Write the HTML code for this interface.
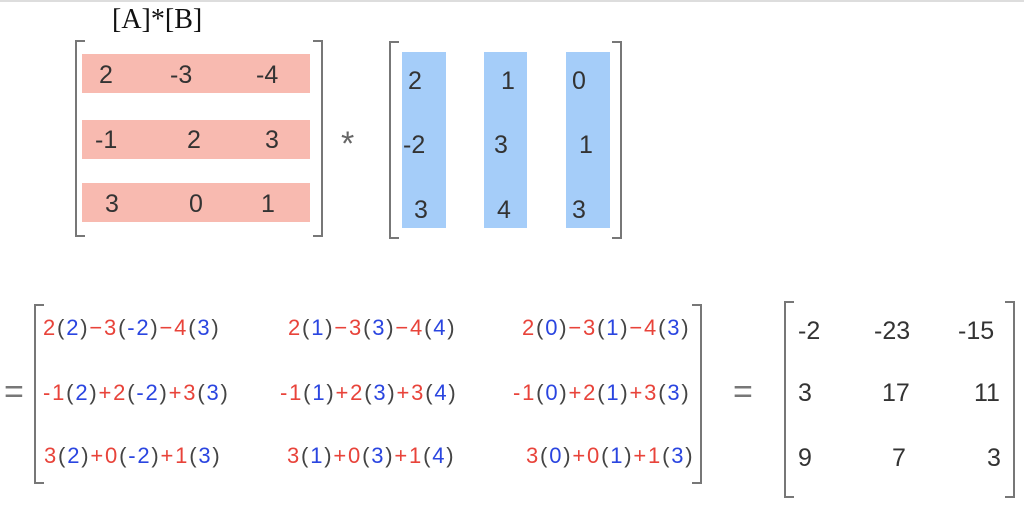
<!DOCTYPE html>
<html><head><meta charset="utf-8"><style>
body{margin:0;width:1024px;height:507px;background:#fff;position:relative;overflow:hidden;font-family:"Liberation Sans","DejaVu Sans",sans-serif;}
.a{position:absolute;}
.t{position:absolute;font-size:25px;line-height:28px;color:#333;white-space:nowrap;transform:translateY(-50%);}
.e{letter-spacing:1.8px;font-size:22px;}
.br{position:absolute;border:2.5px solid #777;}
.l{border-right:none;width:8px;}
.rr{border-left:none;width:8px;}
.r{color:#e8433a}.b{color:#2a45e0}.p{color:#444}
.pk{position:absolute;background:#f8bab0;}
.bl{position:absolute;background:#a5cdf9;}
</style></head><body>
<div class="a" style="left:0;top:0;width:1024px;height:2px;background:#ddd"></div>
<div class="a" style="left:112px;top:4px;font-family:'Liberation Serif',serif;font-size:28px;color:#111">[A]*[B]</div>

<!-- Matrix A -->
<div class="br l" style="left:75px;top:40px;height:193px"></div>
<div class="br rr" style="left:313px;top:40px;height:193px"></div>
<div class="pk" style="left:82px;top:54px;width:228px;height:39px"></div>
<div class="pk" style="left:82px;top:120px;width:228px;height:39px"></div>
<div class="pk" style="left:82px;top:183px;width:228px;height:39px"></div>
<div class="t" style="left:99px;top:75px">2</div>
<div class="t" style="left:170px;top:75px">-3</div>
<div class="t" style="left:256px;top:75px">-4</div>
<div class="t" style="left:95px;top:140px">-1</div>
<div class="t" style="left:187px;top:140px">2</div>
<div class="t" style="left:265px;top:140px">3</div>
<div class="t" style="left:105px;top:204px">3</div>
<div class="t" style="left:189px;top:204px">0</div>
<div class="t" style="left:261px;top:204px">1</div>
<div class="t" style="left:341px;top:144px;font-size:34px;color:#666">*</div>

<!-- Matrix B -->
<div class="br l" style="left:389px;top:41px;height:194px"></div>
<div class="br rr" style="left:612px;top:41px;height:194px"></div>
<div class="bl" style="left:402px;top:52px;width:44px;height:176px"></div>
<div class="bl" style="left:484px;top:52px;width:43px;height:176px"></div>
<div class="bl" style="left:566px;top:52px;width:44px;height:176px"></div>
<div class="t" style="left:408px;top:81px">2</div>
<div class="t" style="left:403px;top:145px">-2</div>
<div class="t" style="left:414px;top:210px">3</div>
<div class="t" style="left:501px;top:81px">1</div>
<div class="t" style="left:494px;top:145px">3</div>
<div class="t" style="left:497px;top:210px">4</div>
<div class="t" style="left:572px;top:81px">0</div>
<div class="t" style="left:579px;top:145px">1</div>
<div class="t" style="left:572px;top:210px">3</div>

<!-- Bottom expansion -->
<div class="t" style="left:4px;top:392px;font-size:34px;color:#777">=</div>
<div class="br l" style="left:34px;top:304px;height:176px"></div>
<div class="br rr" style="left:692px;top:304px;height:176px"></div>

<div class="t e" style="left:43px;top:328px"><span class="r">2</span><span class="p">(</span><span class="b">2</span><span class="p">)</span><span class="r">−3</span><span class="p">(</span><span class="b">-2</span><span class="p">)</span><span class="r">−4</span><span class="p">(</span><span class="b">3</span><span class="p">)</span></div>
<div class="t e" style="left:43px;top:393px"><span class="r">-1</span><span class="p">(</span><span class="b">2</span><span class="p">)</span><span class="r">+2</span><span class="p">(</span><span class="b">-2</span><span class="p">)</span><span class="r">+3</span><span class="p">(</span><span class="b">3</span><span class="p">)</span></div>
<div class="t e" style="left:44px;top:456px"><span class="r">3</span><span class="p">(</span><span class="b">2</span><span class="p">)</span><span class="r">+0</span><span class="p">(</span><span class="b">-2</span><span class="p">)</span><span class="r">+1</span><span class="p">(</span><span class="b">3</span><span class="p">)</span></div>

<div class="t e" style="left:288px;top:328px"><span class="r">2</span><span class="p">(</span><span class="b">1</span><span class="p">)</span><span class="r">−3</span><span class="p">(</span><span class="b">3</span><span class="p">)</span><span class="r">−4</span><span class="p">(</span><span class="b">4</span><span class="p">)</span></div>
<div class="t e" style="left:280px;top:393px"><span class="r">-1</span><span class="p">(</span><span class="b">1</span><span class="p">)</span><span class="r">+2</span><span class="p">(</span><span class="b">3</span><span class="p">)</span><span class="r">+3</span><span class="p">(</span><span class="b">4</span><span class="p">)</span></div>
<div class="t e" style="left:287px;top:456px"><span class="r">3</span><span class="p">(</span><span class="b">1</span><span class="p">)</span><span class="r">+0</span><span class="p">(</span><span class="b">3</span><span class="p">)</span><span class="r">+1</span><span class="p">(</span><span class="b">4</span><span class="p">)</span></div>

<div class="t e" style="left:522px;top:328px"><span class="r">2</span><span class="p">(</span><span class="b">0</span><span class="p">)</span><span class="r">−3</span><span class="p">(</span><span class="b">1</span><span class="p">)</span><span class="r">−4</span><span class="p">(</span><span class="b">3</span><span class="p">)</span></div>
<div class="t e" style="left:513px;top:393px"><span class="r">-1</span><span class="p">(</span><span class="b">0</span><span class="p">)</span><span class="r">+2</span><span class="p">(</span><span class="b">1</span><span class="p">)</span><span class="r">+3</span><span class="p">(</span><span class="b">3</span><span class="p">)</span></div>
<div class="t e" style="left:526px;top:456px"><span class="r">3</span><span class="p">(</span><span class="b">0</span><span class="p">)</span><span class="r">+0</span><span class="p">(</span><span class="b">1</span><span class="p">)</span><span class="r">+1</span><span class="p">(</span><span class="b">3</span><span class="p">)</span></div>

<!-- Result -->
<div class="t" style="left:733px;top:392px;font-size:34px;color:#777">=</div>
<div class="br l" style="left:784px;top:301px;height:193px"></div>
<div class="br rr" style="left:1005px;top:301px;height:193px"></div>
<div class="t" style="left:798px;top:331px">-2</div>
<div class="t" style="left:874px;top:331px">-23</div>
<div class="t" style="left:958px;top:331px">-15</div>
<div class="t" style="left:798px;top:393px">3</div>
<div class="t" style="left:882px;top:393px">17</div>
<div class="t" style="left:974px;top:393px">11</div>
<div class="t" style="left:798px;top:458px">9</div>
<div class="t" style="left:892px;top:458px">7</div>
<div class="t" style="left:987px;top:458px">3</div>
</body></html>
